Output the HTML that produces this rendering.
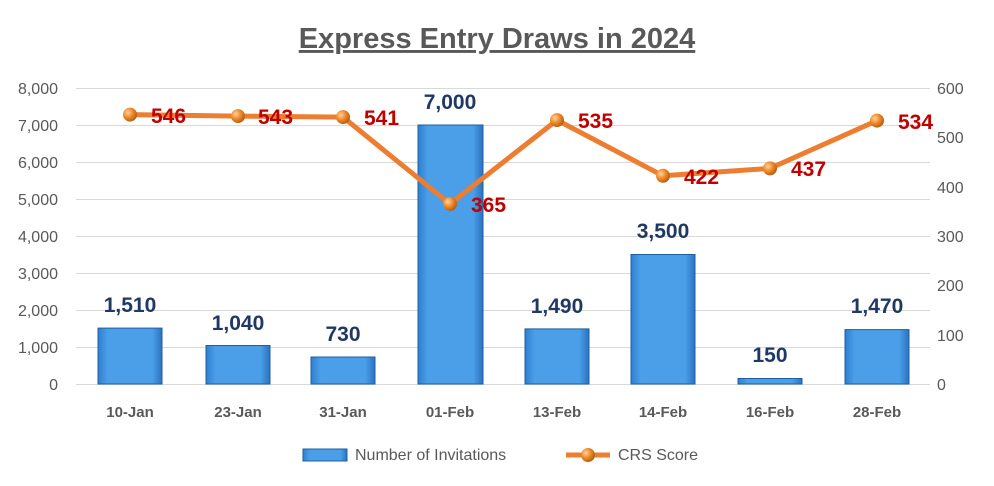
<!DOCTYPE html>
<html><head><style>body{margin:0;background:#fff}svg{display:block}</style></head><body>
<svg width="994" height="486" xmlns="http://www.w3.org/2000/svg" font-family="Liberation Sans, sans-serif">
<defs>
<linearGradient id="bg" x1="0" x2="1" y1="0" y2="0">
<stop offset="0" stop-color="#2f7fd0"/><stop offset="0.15" stop-color="#4a9fe8"/><stop offset="0.85" stop-color="#4a9fe8"/><stop offset="1" stop-color="#2a72c0"/></linearGradient>
<radialGradient id="mk" cx="0.35" cy="0.35" r="0.7"><stop offset="0" stop-color="#ffd3a0"/><stop offset="0.5" stop-color="#f08a2a"/><stop offset="1" stop-color="#b35a10"/></radialGradient>
</defs>
<text x="497" y="48" text-anchor="middle" font-size="29" font-weight="bold" fill="#595959" text-decoration="underline">Express Entry Draws in 2024</text>
<g stroke="#d9d9d9" stroke-width="1">
<line x1="76" x2="930" y1="88.5" y2="88.5"/><line x1="76" x2="930" y1="125.5" y2="125.5"/><line x1="76" x2="930" y1="162.5" y2="162.5"/><line x1="76" x2="930" y1="199.5" y2="199.5"/><line x1="76" x2="930" y1="236.5" y2="236.5"/><line x1="76" x2="930" y1="273.5" y2="273.5"/><line x1="76" x2="930" y1="310.5" y2="310.5"/><line x1="76" x2="930" y1="347.5" y2="347.5"/><line x1="76" x2="930" y1="384.5" y2="384.5"/>
</g>
<g font-size="16" fill="#595959" text-anchor="end">
<text x="58" y="94">8,000</text><text x="58" y="131">7,000</text><text x="58" y="168">6,000</text><text x="58" y="205">5,000</text><text x="58" y="242">4,000</text><text x="58" y="279">3,000</text><text x="58" y="316">2,000</text><text x="58" y="353">1,000</text><text x="58" y="390">0</text>
</g>
<g font-size="16" fill="#595959" text-anchor="start">
<text x="937" y="94">600</text><text x="937" y="143">500</text><text x="937" y="193">400</text><text x="937" y="242">300</text><text x="937" y="291">200</text><text x="937" y="341">100</text><text x="937" y="390">0</text>
</g>
<g fill="url(#bg)" stroke="#1f5fa0" stroke-width="1">
<rect x="98" y="328.1" width="64" height="55.9"/><rect x="206" y="345.5" width="64" height="38.5"/><rect x="311" y="357" width="64" height="27"/><rect x="418" y="125" width="65" height="259"/><rect x="525" y="328.9" width="64" height="55.1"/><rect x="631" y="254.5" width="64" height="129.5"/><rect x="738" y="378.5" width="64" height="5.5"/><rect x="845" y="329.6" width="64" height="54.4"/>
</g>
<g font-size="21" font-weight="bold" fill="#1f3864" text-anchor="middle">
<text x="130" y="312">1,510</text><text x="238" y="330">1,040</text><text x="343" y="341">730</text><text x="450" y="109">7,000</text><text x="557" y="313">1,490</text><text x="663" y="238">3,500</text><text x="770" y="362">150</text><text x="877" y="313">1,470</text>
</g>
<polyline fill="none" stroke="#ed7d31" stroke-width="5" stroke-linejoin="round" points="130,114.6 238,116.1 343,117.1 450,203.9 557,120.1 663,175.8 770,168.4 877,120.6"/>
<g fill="url(#mk)">
<circle cx="130" cy="114.6" r="7"/><circle cx="238" cy="116.1" r="7"/><circle cx="343" cy="117.1" r="7"/><circle cx="450" cy="203.9" r="7"/><circle cx="557" cy="120.1" r="7"/><circle cx="663" cy="175.8" r="7"/><circle cx="770" cy="168.4" r="7"/><circle cx="877" cy="120.6" r="7"/>
</g>
<g font-size="21" font-weight="bold" fill="#c00000">
<text x="151" y="123">546</text><text x="258" y="124">543</text><text x="364" y="125">541</text><text x="471" y="212">365</text><text x="578" y="128">535</text><text x="684" y="184">422</text><text x="791" y="176">437</text><text x="898" y="129">534</text>
</g>
<g font-size="15" font-weight="bold" fill="#595959" text-anchor="middle">
<text x="130" y="417">10-Jan</text><text x="238" y="417">23-Jan</text><text x="343" y="417">31-Jan</text><text x="450" y="417">01-Feb</text><text x="557" y="417">13-Feb</text><text x="663" y="417">14-Feb</text><text x="770" y="417">16-Feb</text><text x="877" y="417">28-Feb</text>
</g>
<rect x="303" y="449" width="44" height="12" fill="url(#bg)" stroke="#1f5fa0"/>
<text x="355" y="460" font-size="16" fill="#595959">Number of Invitations</text>
<line x1="566" x2="610" y1="455" y2="455" stroke="#ed7d31" stroke-width="5"/>
<circle cx="588" cy="455" r="7" fill="url(#mk)"/>
<text x="618" y="460" font-size="16" fill="#595959">CRS Score</text>
</svg>
</body></html>
